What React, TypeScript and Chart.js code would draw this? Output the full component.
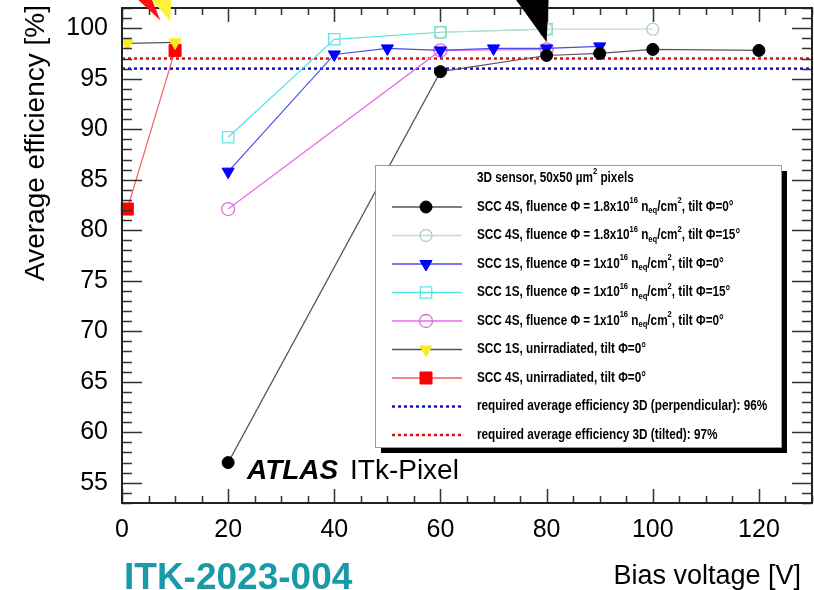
import React, { useEffect, useRef } from "react";
import { Chart, registerables } from "chart.js";
import { drawPoint } from "chart.js/helpers";

Chart.register(...registerables);

// ---------- data ----------
const xTickValues = [0, 20, 40, 60, 80, 100, 120];
const yTickValues = [55, 60, 65, 70, 75, 80, 85, 90, 95, 100];

const s4HighT0V = [20, 60, 80, 90, 100, 120];
const s4HighT0E = [57.0, 95.7, 97.3, 97.5, 97.9, 97.8];
const s4HighT15V = [60, 80, 100];
const s4HighT15E = [99.6, 99.9, 99.9];
const s1T0V = [20, 40, 50, 60, 70, 80, 90];
const s1T0E = [85.8, 97.4, 98.0, 97.8, 98.0, 98.0, 98.2];
const s1T15V = [20, 40, 60, 80];
const s1T15E = [89.2, 98.9, 99.6, 99.9];
const s4T0V = [20, 60, 80];
const s4T0E = [82.1, 97.8, 97.9];
const s1UnirrV = [1, 10];
const s1UnirrE = [98.5, 98.6];
const s4UnirrV = [1, 10];
const s4UnirrE = [82.1, 97.8];
const requiredPerp = 96;
const requiredTilted = 97;

const legendHeader = "3D sensor, 50x50 µm^{2} pixels";
const legendLabels = [
  "SCC 4S, fluence Φ = 1.8x10^{16} n_{eq}/cm^{2}, tilt Φ=0°",
  "SCC 4S, fluence Φ = 1.8x10^{16} n_{eq}/cm^{2}, tilt Φ=15°",
  "SCC 1S, fluence Φ = 1x10^{16} n_{eq}/cm^{2}, tilt Φ=0°",
  "SCC 1S, fluence Φ = 1x10^{16} n_{eq}/cm^{2}, tilt Φ=15°",
  "SCC 4S, fluence Φ = 1x10^{16} n_{eq}/cm^{2}, tilt Φ=0°",
  "SCC 1S, unirradiated, tilt Φ=0°",
  "SCC 4S, unirradiated, tilt Φ=0°",
  "required average efficiency 3D (perpendicular): 96%",
  "required average efficiency 3D (tilted): 97%",
];

// annotation arrow tips (data coordinates)
const blackArrowTip = { x: 80, y: 98.6 };
const yellowArrowTip = { x: 9.1, y: 100.7 };

const toPts = (xs: number[], ys: number[]) => xs.map((x, i) => ({ x, y: ys[i] }));

const FONT = "'Liberation Sans', Arial, Helvetica, sans-serif";

function parseRich(s: string) {
  const out: { t: string; k: "n" | "sup" | "sub" }[] = [];
  const re = /([\^_])\{([^}]*)\}/g;
  let last = 0;
  let m: RegExpExecArray | null;
  while ((m = re.exec(s))) {
    if (m.index > last) out.push({ t: s.slice(last, m.index), k: "n" });
    out.push({ t: m[2], k: m[1] === "^" ? "sup" : "sub" });
    last = re.lastIndex;
  }
  if (last < s.length) out.push({ t: s.slice(last), k: "n" });
  return out;
}

function drawRich(ctx: CanvasRenderingContext2D, s: string, x: number, y: number) {
  ctx.save();
  ctx.translate(x, y);
  ctx.scale(0.84, 1);
  ctx.textBaseline = "middle";
  ctx.textAlign = "left";
  ctx.fillStyle = "#000";
  let cx = 0;
  for (const seg of parseRich(s)) {
    if (seg.k === "n") {
      ctx.font = `bold 14px ${FONT}`;
      ctx.fillText(seg.t, cx, 0);
    } else {
      ctx.font = `bold 9px ${FONT}`;
      ctx.fillText(seg.t, cx, seg.k === "sup" ? -6 : 4);
    }
    cx += ctx.measureText(seg.t).width;
  }
  ctx.restore();
}

function drawFrame(chart: any) {
  const { ctx, chartArea: a, scales } = chart;
  const xs = scales.x;
  const ys = scales.y;
  ctx.save();
  ctx.strokeStyle = "#333";
  ctx.lineWidth = 1.5;
  ctx.setLineDash([]);
  ctx.beginPath();
  for (let v = 0; v <= 130; v += 5) {
    const px = Math.round(xs.getPixelForValue(v)) + 0.5;
    const len = v % 20 === 0 ? 14 : 7;
    ctx.moveTo(px, a.bottom);
    ctx.lineTo(px, a.bottom - len);
    ctx.moveTo(px, a.top);
    ctx.lineTo(px, a.top + len);
  }
  for (let v = 53; v <= 102; v += 1) {
    const py = Math.round(ys.getPixelForValue(v)) + 0.5;
    const len = v % 5 === 0 ? 20 : 10;
    ctx.moveTo(a.left, py);
    ctx.lineTo(a.left + len, py);
    ctx.moveTo(a.right, py);
    ctx.lineTo(a.right - len, py);
  }
  ctx.stroke();
  ctx.strokeStyle = "#222";
  ctx.lineWidth = 2;
  ctx.strokeRect(a.left, a.top, a.right - a.left, a.bottom - a.top);
  ctx.restore();
}

const overlayPlugin = {
  id: "overlay",
  afterDraw(chart: any) {
    const { ctx, scales } = chart;
    const xs = scales.x;
    const ys = scales.y;
    drawFrame(chart);
    ctx.save();

    // ---- legend ----
    const lx = 375, ly = 165, lw = 406, lh = 282;
    ctx.fillStyle = "#000";
    ctx.fillRect(lx + 6, ly + 6, lw, lh);
    ctx.fillStyle = "#fff";
    ctx.fillRect(lx, ly, lw, lh);
    ctx.strokeStyle = "#999";
    ctx.lineWidth = 1;
    ctx.strokeRect(lx + 0.5, ly + 0.5, lw, lh);

    drawRich(ctx, legendHeader, 477, 178);
    const datasets = chart.data.datasets;
    legendLabels.forEach((label, i) => {
      const y = 207 + i * 28.5;
      const ds = datasets[i];
      ctx.save();
      ctx.strokeStyle = ds.borderColor;
      ctx.lineWidth = ds.legendLineWidth ?? ds.borderWidth;
      ctx.setLineDash(ds.borderDash || []);
      ctx.beginPath();
      ctx.moveTo(392, y);
      ctx.lineTo(462, y);
      ctx.stroke();
      ctx.setLineDash([]);
      if (ds.pointRadius > 0) {
        ctx.fillStyle = ds.pointBackgroundColor;
        ctx.strokeStyle = ds.pointBorderColor;
        ctx.lineWidth = ds.pointBorderWidth;
        drawPoint(ctx, {
          pointStyle: ds.pointStyle,
          radius: ds.pointRadius,
          rotation: ds.pointRotation || 0,
          borderWidth: ds.pointBorderWidth,
        } as any, 426, y);
      }
      ctx.restore();
      drawRich(ctx, label, 477, y);
    });

    // ---- texts ----
    ctx.fillStyle = "#000";
    ctx.font = `28px ${FONT}`;
    ctx.save();
    ctx.translate(44, 5);
    ctx.rotate(-Math.PI / 2);
    ctx.textAlign = "right";
    ctx.textBaseline = "alphabetic";
    ctx.fillText("Average efficiency [%]", 0, 0);
    ctx.restore();

    ctx.font = `27px ${FONT}`;
    ctx.textAlign = "right";
    ctx.textBaseline = "alphabetic";
    ctx.fillText("Bias voltage [V]", 801, 584);

    ctx.font = `bold 37px ${FONT}`;
    ctx.textAlign = "left";
    ctx.fillStyle = "#1a9aa8";
    ctx.fillText("ITK-2023-004", 124, 589);

    ctx.fillStyle = "#000";
    ctx.font = `italic bold 28px ${FONT}`;
    ctx.fillText("ATLAS", 247, 479);
    ctx.font = `28px ${FONT}`;
    ctx.fillText("ITk-Pixel", 350, 479);

    // ---- arrows ----
    const bx = xs.getPixelForValue(blackArrowTip.x);
    const by = ys.getPixelForValue(blackArrowTip.y);
    ctx.fillStyle = "#000";
    ctx.beginPath();
    ctx.moveTo(bx, by);
    ctx.lineTo(bx - 31, by - 43);
    ctx.lineTo(bx + 2, by - 43);
    ctx.closePath();
    ctx.fill();

    const yx = xs.getPixelForValue(yellowArrowTip.x);
    const yy = ys.getPixelForValue(yellowArrowTip.y);
    ctx.fillStyle = "#ff1010";
    ctx.beginPath();
    ctx.moveTo(yx - 10, yy - 1);
    ctx.lineTo(yx - 34, yy - 23);
    ctx.lineTo(yx - 19, yy - 23);
    ctx.closePath();
    ctx.fill();
    ctx.fillStyle = "#fff23a";
    ctx.beginPath();
    ctx.moveTo(yx, yy);
    ctx.lineTo(yx - 20, yy - 23);
    ctx.lineTo(yx + 1, yy - 23);
    ctx.closePath();
    ctx.fill();

    ctx.restore();
  },
};

export default function App() {
  const ref = useRef<HTMLCanvasElement | null>(null);
  useEffect(() => {
    if (!ref.current) return;
    const line = (
      data: { x: number; y: number }[],
      lineColor: string,
      markerColor: string,
      style: string,
      radius: number,
      filled: boolean,
      rotation = 0
    ) => ({
      data,
      showLine: true,
      clip: false,
      borderColor: lineColor,
      borderWidth: 1.2,
      pointStyle: style,
      pointRadius: radius,
      pointHoverRadius: radius,
      pointRotation: rotation,
      pointBackgroundColor: filled ? markerColor : "rgba(255,255,255,0)",
      pointBorderColor: markerColor,
      pointBorderWidth: filled ? 1 : 1.3,
      legendLineWidth: 1.5,
    });
    const ref0 = (y: number, color: string) => ({
      data: [
        { x: 0, y },
        { x: 130, y },
      ],
      showLine: true,
      borderColor: color,
      borderWidth: 2.5,
      borderDash: [3, 3],
      pointRadius: 0,
      legendLineWidth: 2.5,
    });
    const chart = new Chart(ref.current, {
      type: "scatter",
      data: {
        datasets: [
          line(toPts(s4HighT0V, s4HighT0E), "#555555", "#000000", "circle", 6, true),
          line(toPts(s4HighT15V, s4HighT15E), "#c2dcc8", "#b0d4b8", "circle", 6, false),
          line(toPts(s1T0V, s1T0E), "#4a4aee", "#0000ff", "triangle", 7, true, 180),
          line(toPts(s1T15V, s1T15E), "#55e2e2", "#66e4e4", "rect", 8, false),
          line(toPts(s4T0V, s4T0E), "#ec66ec", "#e070e0", "circle", 6.5, false),
          line(toPts(s1UnirrV, s1UnirrE), "#555555", "#f7ec20", "triangle", 7, true, 180),
          line(toPts(s4UnirrV, s4UnirrE), "#f06060", "#ff0000", "rect", 8.5, true),
          ref0(requiredPerp, "#1010d0"),
          ref0(requiredTilted, "#dd1010"),
        ] as any,
      },
      options: {
        animation: false,
        responsive: false,
        events: [],
        layout: { autoPadding: false, padding: { left: 0, right: 2, top: 8, bottom: 0 } },
        plugins: { legend: { display: false }, tooltip: { enabled: false }, title: { display: false } },
        scales: {
          x: {
            type: "linear",
            min: 0,
            max: 130,
            afterBuildTicks: (s: any) => {
              s.ticks = xTickValues.map((v) => ({ value: v }));
            },
            afterFit: (s: any) => {
              s.height = 87;
              s.paddingLeft = 0;
              s.paddingRight = 0;
            },
            grid: { display: false },
            border: { display: false },
            ticks: { color: "#000", font: { family: FONT, size: 25 }, padding: 4, maxRotation: 0, autoSkip: false },
          },
          y: {
            type: "linear",
            min: 53,
            max: 102,
            afterBuildTicks: (s: any) => {
              s.ticks = yTickValues.map((v) => ({ value: v }));
            },
            afterFit: (s: any) => {
              s.width = 122;
              s.paddingTop = 0;
              s.paddingBottom = 0;
            },
            grid: { display: false },
            border: { display: false },
            ticks: { color: "#000", font: { family: FONT, size: 25 }, padding: 6, autoSkip: false },
          },
        },
      } as any,
      plugins: [overlayPlugin as any],
    });
    return () => chart.destroy();
  }, []);
  return (
    <div style={{ position: "fixed", left: 0, top: 0, width: 814, height: 590, background: "#fff" }}>
      <canvas ref={ref} width={814} height={590} style={{ display: "block" }} />
    </div>
  );
}
